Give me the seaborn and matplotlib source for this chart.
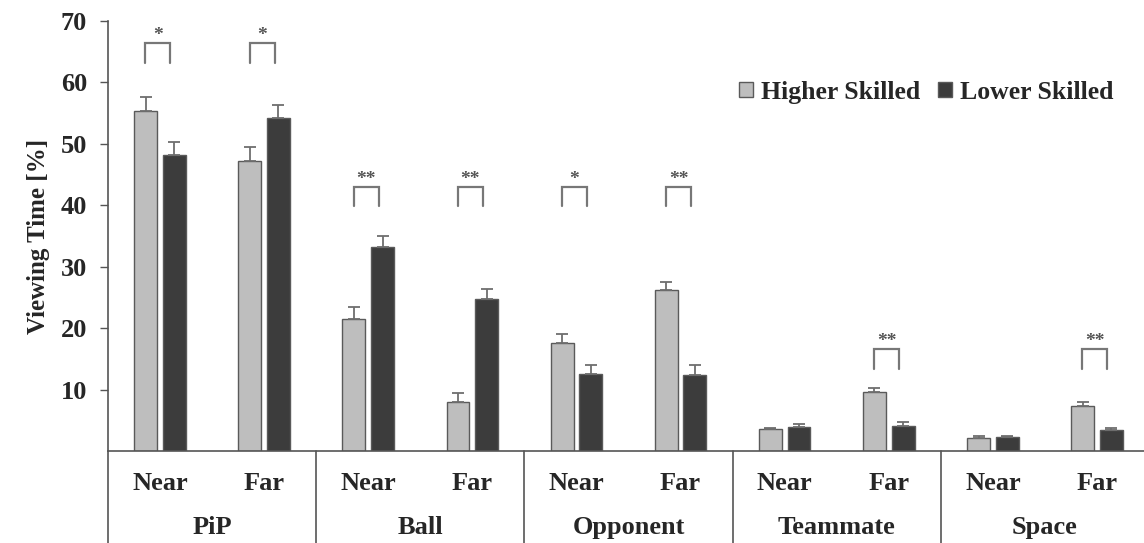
import numpy as np
import pandas as pd
import seaborn as sns
import matplotlib
matplotlib.use("Agg")
import matplotlib.pyplot as plt
from matplotlib.lines import Line2D
from matplotlib.patches import Patch

# Viewing time per gaze target and distance, by skill group (mean and SE)
groups = ["PiP", "Ball", "Opponent", "Teammate", "Space"]
distances = ["Near", "Far"]
higher = [55.3, 47.2, 21.5, 8.0, 17.6, 26.2, 3.6, 9.6, 2.1, 7.3]
higher_se = [2.3, 2.3, 1.9, 1.4, 1.4, 1.3, 0.2, 0.6, 0.3, 0.7]
lower = [48.2, 54.2, 33.2, 24.7, 12.5, 12.4, 3.9, 4.1, 2.2, 3.4]
lower_se = [2.1, 2.1, 1.8, 1.7, 1.5, 1.6, 0.5, 0.6, 0.2, 0.3]
# significance markers and bracket heights per condition
sig = ["*", "*", "**", "**", "*", "**", "", "**", "", "**"]
bracket_top = [66.4, 66.4, 43.0, 43.0, 43.0, 43.0, None, 16.6, None, 16.6]
y_ticks = [10, 20, 30, 40, 50, 60, 70]

conditions = [f"{g} {d}" for g in groups for d in distances]
df = pd.DataFrame({
    "condition": conditions * 2,
    "value": higher + lower,
    "se": higher_se + lower_se,
    "skill": ["Higher Skilled"] * len(conditions) + ["Lower Skilled"] * len(conditions),
})

sns.set_theme(style="white")
plt.rcParams["font.family"] = ["Liberation Serif", "DejaVu Serif"]
plt.rcParams["font.weight"] = "bold"

light, dark, edge = "#BEBEBE", "#3C3C3C", "#5A5A5A"
fig = plt.figure(figsize=(11.44, 5.43), dpi=100)
ax = fig.add_axes([0.0944, 0.1694, 0.91, 0.792])

sns.barplot(data=df, x="condition", y="value", hue="skill", order=conditions,
            hue_order=["Higher Skilled", "Lower Skilled"],
            palette=[light, dark], width=0.55, gap=0.2, errorbar=None,
            edgecolor=edge, linewidth=1.0, legend=False, ax=ax)

# upward-only standard-error whiskers on each bar
n = len(conditions)
for container, se in zip(ax.containers, [higher_se, lower_se]):
    xs = [p.get_x() + p.get_width() / 2 for p in container.patches]
    hs = [p.get_height() for p in container.patches]
    ax.errorbar(xs, hs, yerr=[np.zeros(n), se], fmt="none", ecolor="#6E6E6E",
                elinewidth=1.3, capsize=4, capthick=1.3, zorder=3)

# significance brackets
half = 0.12
for i, (s, top) in enumerate(zip(sig, bracket_top)):
    if not s:
        continue
    xc = i - 0.02
    ax.plot([xc - half, xc - half, xc + half, xc + half], [top - 3.2, top, top, top - 3.2],
            color="#777777", lw=1.6, solid_joinstyle="miter", zorder=3)
    ax.text(xc, top + 1.2, s, ha="center", va="center", fontsize=14,
            color="#555555", fontweight="bold")

ax.set_xlim(-0.5, 9.5)
ax.set_ylim(0, 70)
ax.set_yticks(y_ticks)
ax.set_yticklabels([str(t) for t in y_ticks], fontsize=19, fontweight="bold")
ax.set_xticks(range(n))
ax.set_xticklabels([d for _ in groups for d in distances], fontsize=19, fontweight="bold")
ax.tick_params(axis="x", length=0, pad=15)
ax.tick_params(axis="y", length=6, width=1, color="#555555", direction="out", left=True, pad=9)
ax.set_xlabel("")
ax.set_ylabel("Viewing Time [%]", fontsize=18, fontweight="bold", labelpad=8)

for side in ["top", "right"]:
    ax.spines[side].set_visible(False)
for side in ["left", "bottom"]:
    ax.spines[side].set_color("#555555")
    ax.spines[side].set_linewidth(1.2)

# group labels and separators beneath the axis
trans = ax.get_xaxis_transform()
for k, g in enumerate(groups):
    ax.text(2 * k + 0.5, -0.178, g, transform=trans, ha="center", va="center",
            fontsize=19, fontweight="bold")
for xb in [-0.5, 1.5, 3.5, 5.5, 7.5]:
    ax.add_line(Line2D([xb, xb], [0, -0.3], transform=trans, color="#555555",
                       lw=1.2, clip_on=False))

handles = [Patch(facecolor=light, edgecolor=edge, label="Higher Skilled"),
           Patch(facecolor=dark, edgecolor=edge, label="Lower Skilled")]
ax.legend(handles=handles, loc="upper right", bbox_to_anchor=(0.988, 0.915), ncol=2,
          frameon=False, handlelength=0.55, handleheight=0.55, handletextpad=0.3,
          columnspacing=0.7, prop={"size": 18.5, "weight": "bold"})

fig.savefig("out.png", dpi=100)
